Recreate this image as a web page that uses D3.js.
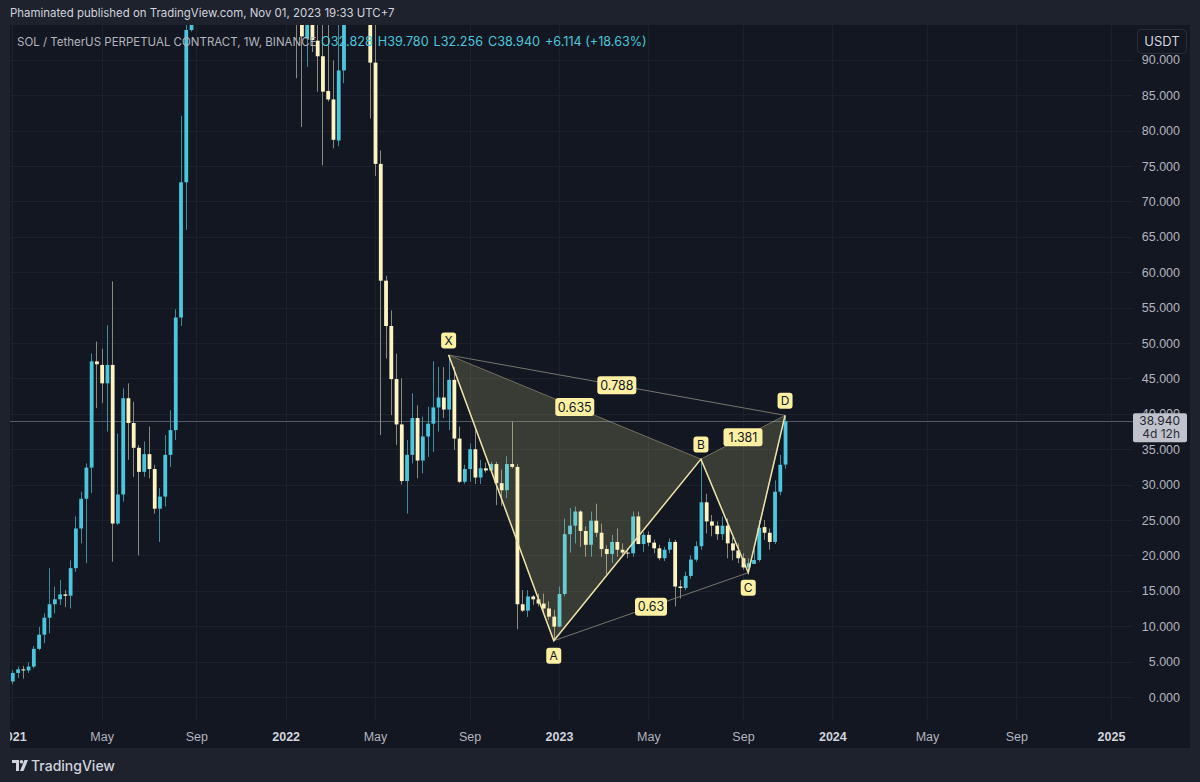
<!DOCTYPE html>
<html>
<head>
<meta charset="utf-8">
<script src="https://cdn.jsdelivr.net/npm/d3@7"></script>
<style>
  html, body { margin: 0; padding: 0; background: #1e222d; }
  svg { display: block; font-family: Inter, "Noto Sans", "DejaVu Sans", sans-serif; }
</style>
</head>
<body>
<div id="chart"></div>
<script>
// SOL/USDT perp weekly candles, Jan 2021 - Oct 2023, with an XABCD pattern drawn on top

const W = 1200, H = 782;

// weekly candles, first bar = week of 4 Jan 2021
const firstWeek = Date.UTC(2021, 0, 4);
const opens = [
  2.2, 3.4, 3.9, 3.75, 4.3, 6.8, 8.8, 11.2, 13.1, 13.8, 14.5, 14.3, 18.2, 23.8, 28.0, 32.4, 47.4, 46.9, 44.3, 46.9,
  24.5, 28.6, 42.2, 38.7, 35.2, 31.8, 34.3, 32.2, 26.6, 28.3, 34.2, 37.7, 53.6, 72.7, 94.2, 140, 175, 165, 135, 165,
  150, 160, 200, 205, 245, 235, 225, 205, 195, 165, 185, 190, 170, 140, 140, 97, 93.0, 112, 92.7, 90.5,
  85.6, 84.4, 78.6, 88.5, 102, 122, 112, 102, 103, 89.6, 75.3, 58.8, 52.4, 44.9, 38.5, 30.5, 34.2, 39.4, 33.4, 36.8,
  38.6, 40.9, 42.3, 40.6, 44.8, 36.5, 30.4, 32.2, 35.0, 31.0, 32.3, 32.0, 32.9, 30.2, 29.2, 32.9, 32.5, 13.1, 12.2, 14.2,
  13.8, 13.2, 12.5, 11.35, 9.94, 14.55, 23.0, 24.2, 26.2, 23.45, 21.5, 24.9, 23.2, 20.9, 20.2, 21.9, 20.8, 20.4, 20.3, 25.5,
  21.6, 22.9, 21.8, 21.0, 19.6, 20.8, 21.9, 15.6, 15.4, 17.1, 19.4, 21.3, 27.5, 24.8, 24.2, 23.0, 24.2, 21.7, 20.7, 19.6,
  18.3, 18.8, 19.35, 24.0, 23.2, 21.9, 29.0, 32.828
];
const highs = [
  3.8, 4.3, 4.4, 4.9, 7.2, 9.9, 11.8, 18.2, 15.6, 16.5, 15.1, 19.3, 25.5, 29.0, 33.0, 48.5, 50.2, 49.2, 52.5, 58.7,
  37.2, 43.6, 44.3, 41.7, 35.6, 36.1, 38.2, 32.8, 29.5, 37.0, 40.5, 54.75, 82.1, 95.0, 147, 216, 190, 170, 175, 175,
  168, 215, 218, 260, 260, 240, 235, 240, 200, 195, 200, 204, 175, 155, 145, 99, 118, 119, 97, 96.5,
  96, 89.9, 95.5, 106, 143, 136, 114, 110, 110, 96, 77.2, 59.5, 54.6, 48.5, 45.0, 36.3, 42.9, 41.2, 39.6, 41.0,
  47.4, 46.6, 46.6, 48.3, 46.6, 38.2, 32.8, 35.8, 37.7, 33.5, 33.1, 33.2, 33.2, 32.1, 34.0, 38.9, 32.9, 15.1, 15.1, 14.4,
  14.6, 14.6, 13.5, 12.3, 15.6, 25.2, 26.7, 26.9, 26.4, 24.1, 26.2, 27.3, 24.5, 21.4, 22.9, 23.8, 21.7, 21.0, 26.2, 26.2,
  23.3, 23.4, 22.2, 21.5, 21.2, 22.4, 22.2, 16.5, 17.7, 20.0, 22.0, 33.6, 28.7, 25.7, 24.8, 25.5, 25.2, 22.6, 21.7, 20.3,
  19.6, 20.8, 25.0, 25.0, 23.8, 30.6, 34.2, 39.78
];
const lows = [
  1.8, 2.7, 2.6, 3.4, 4.05, 6.6, 7.6, 9.0, 11.8, 13.0, 12.7, 12.5, 17.7, 21.7, 18.9, 28.8, 40.8, 41.5, 37.5, 19.1,
  24.3, 27.6, 33.5, 31.1, 20.0, 31.1, 30.9, 25.9, 21.9, 26.9, 32.5, 36.3, 52.4, 66.0, 94.0, 125, 145, 120, 130, 145,
  145, 150, 180, 190, 220, 190, 185, 170, 155, 155, 180, 165, 130, 135, 87.4, 80.5, 89.0, 91.1, 85.5, 75.1,
  84.1, 77.5, 77.8, 86.7, 100, 108, 97, 97, 81.7, 73.6, 37.0, 47.8, 39.8, 35.6, 30.0, 25.9, 33.0, 30.9, 31.6, 33.9,
  34.6, 37.5, 39.4, 37.7, 34.9, 30.2, 30.1, 30.4, 30.1, 30.1, 31.7, 31.7, 27.1, 27.0, 28.1, 32.3, 9.56, 12.0, 11.3, 13.0,
  12.8, 12.0, 10.9, 7.95, 9.85, 14.2, 20.4, 21.7, 21.2, 19.8, 19.8, 22.6, 19.8, 17.3, 18.9, 19.8, 19.8, 19.6, 19.8, 21.7,
  20.5, 21.3, 20.3, 19.3, 19.2, 20.3, 12.8, 13.9, 15.1, 16.7, 19.1, 20.8, 23.1, 22.7, 22.2, 22.2, 19.6, 19.3, 18.9, 18.0,
  17.56, 18.8, 19.1, 22.2, 20.8, 21.6, 28.5, 32.256
];
const closes = [
  3.4, 3.9, 3.75, 4.3, 6.8, 8.8, 11.2, 13.1, 13.8, 14.5, 14.3, 18.2, 23.8, 28.0, 32.4, 47.4, 47.0, 44.3, 46.9, 24.5,
  28.6, 42.2, 38.7, 35.2, 31.8, 34.3, 32.2, 26.6, 28.3, 34.2, 37.7, 53.6, 72.7, 94.2, 140, 175, 165, 135, 165, 150,
  160, 200, 205, 245, 235, 225, 205, 195, 165, 185, 190, 170, 140, 140, 97, 93.3, 112, 92.8, 90.5, 85.5,
  84.4, 78.7, 88.5, 102, 122, 112, 102, 103, 89.6, 75.3, 58.8, 52.4, 44.9, 38.5, 30.5, 34.2, 39.4, 33.4, 36.8, 38.6,
  40.9, 42.3, 40.6, 44.8, 36.5, 30.4, 32.2, 35.0, 31.0, 32.3, 32.0, 32.9, 30.2, 29.2, 32.9, 32.5, 13.1, 12.2, 14.2, 13.8,
  13.2, 12.5, 11.35, 9.94, 14.55, 23.0, 24.2, 26.2, 23.45, 21.5, 24.9, 23.2, 20.9, 20.2, 21.9, 20.8, 20.4, 20.3, 25.5, 21.6,
  22.9, 21.8, 21.0, 19.6, 20.8, 21.9, 15.6, 15.4, 17.1, 19.4, 21.3, 27.5, 24.8, 24.2, 23.0, 24.2, 21.7, 20.7, 19.6, 18.3,
  18.9, 19.35, 23.9, 23.2, 21.9, 29.0, 32.8, 38.94
];

// XABCD pattern: bar index and price of each pivot
const pivotNames = ['X', 'A', 'B', 'C', 'D'];
const pivotBars = [83, 103, 131, 140, 147];
const pivotPrices = [48.3, 7.95, 33.6, 17.56, 39.78];
const pivotAbove = [true, false, true, false, true];
// ratio labels sit at the middle of the line between two pivots
const ratioFrom = ['X', 'X', 'B', 'A'];
const ratioTo = ['B', 'D', 'D', 'C'];
const ratioText = ['0.635', '0.788', '1.381', '0.63'];

// time axis labels
const tickDates = ['2021-01-04', '2021-05-03', '2021-09-06', '2022-01-03', '2022-05-02', '2022-09-05', '2023-01-02',
  '2023-05-01', '2023-09-04', '2024-01-01', '2024-05-06', '2024-09-02', '2025-01-06'];
const tickLabels = ['2021', 'May', 'Sep', '2022', 'May', 'Sep', '2023', 'May', 'Sep', '2024', 'May', 'Sep', '2025'];

const lastPrice = 38.94;
const headerText = 'Phaminated published on TradingView.com, Nov 01, 2023 19:33 UTC+7';
const legendTitle = 'SOL / TetherUS PERPETUAL CONTRACT, 1W, BINANCE';
const legendValues = ['O32.828', 'H39.780', 'L32.256', 'C38.940', '+6.114 (+18.63%)'];

const upColor = '#4cc6dc', downColor = '#fdf4c2';
const upWick = '#3f8d9e', downWick = '#8a897e';
const bg = '#131722', frame = '#1e222d', gridColor = '#1d212c', axisText = '#b2b5be';

// layout
const pane = { left: 10, right: 1190, top: 25, bottom: 748 };
const plot = { left: 10, right: 1133, top: 25, bottom: 721 };

const bars = opens.map((o, i) => ({
  date: new Date(firstWeek + i * 7 * 864e5),
  o, h: highs[i], l: lows[i], c: closes[i]
}));

const x = d3.scaleTime()
  .domain([bars[0].date, bars[bars.length - 1].date])
  .range([12.3, 785.05]);
const y = d3.scaleLinear().domain([0, 90]).range([697, 59.8]);

const svg = d3.select('#chart').append('svg').attr('width', W).attr('height', H);

// scale a text's font so that it spans the given width
function fitWidth(sel, width) {
  const w = sel.node().getComputedTextLength();
  sel.attr('font-size', +sel.attr('font-size') * width / w);
}

svg.append('rect').attr('width', W).attr('height', H).attr('fill', frame);
svg.append('rect')
  .attr('x', pane.left).attr('y', pane.top)
  .attr('width', pane.right - pane.left).attr('height', pane.bottom - pane.top)
  .attr('fill', bg);

const defs = svg.append('defs');
defs.append('clipPath').attr('id', 'plotClip').append('rect')
  .attr('x', plot.left).attr('y', plot.top)
  .attr('width', plot.right - plot.left).attr('height', plot.bottom - plot.top);
defs.append('clipPath').attr('id', 'timeClip').append('rect')
  .attr('x', pane.left).attr('y', plot.bottom)
  .attr('width', plot.right - pane.left).attr('height', pane.bottom - plot.bottom);

const tDates = tickDates.map(s => new Date(s + 'T00:00:00Z'));
const priceTicks = y.ticks(18);

// grid
const grid = svg.append('g').attr('clip-path', 'url(#plotClip)');
grid.selectAll('line.h').data(priceTicks).join('line')
  .attr('x1', plot.left).attr('x2', plot.right)
  .attr('y1', d => Math.round(y(d)) + 0.5).attr('y2', d => Math.round(y(d)) + 0.5)
  .attr('stroke', gridColor);
grid.selectAll('line.v').data(tDates).join('line')
  .attr('x1', d => Math.round(x(d)) + 0.5).attr('x2', d => Math.round(x(d)) + 0.5)
  .attr('y1', plot.top).attr('y2', plot.bottom)
  .attr('stroke', gridColor);

// last price line
grid.append('line')
  .attr('x1', plot.left).attr('x2', plot.right)
  .attr('y1', Math.round(y(lastPrice)) + 0.5).attr('y2', Math.round(y(lastPrice)) + 0.5)
  .attr('stroke', '#555965');

// candles
const bodyW = 3.8;
const candles = svg.append('g').attr('clip-path', 'url(#plotClip)');
const cg = candles.selectAll('g').data(bars).join('g');
cg.append('line')
  .attr('x1', d => Math.round(x(d.date)) + 0.5).attr('x2', d => Math.round(x(d.date)) + 0.5)
  .attr('y1', d => y(d.h)).attr('y2', d => y(d.l))
  .attr('stroke', d => d.c >= d.o ? upWick : downWick)
  .attr('stroke-width', 1);
cg.append('rect')
  .attr('x', d => x(d.date) - bodyW / 2 + 0.5)
  .attr('width', bodyW)
  .attr('y', d => y(Math.max(d.o, d.c)))
  .attr('height', d => Math.max(1, Math.abs(y(d.o) - y(d.c))))
  .attr('fill', d => d.c >= d.o ? upColor : downColor);

// XABCD pattern
const pivots = pivotNames.map((n, i) => ({
  name: n, px: x(bars[pivotBars[i]].date), py: y(pivotPrices[i]), above: pivotAbove[i]
}));
const P = Object.fromEntries(pivots.map(p => [p.name, p]));
const pat = svg.append('g').attr('clip-path', 'url(#plotClip)');
const tri = pts => pts.map(n => [P[n].px, P[n].py].join(',')).join(' ');

pat.selectAll('polygon').data([['X', 'A', 'B'], ['B', 'C', 'D']]).join('polygon')
  .attr('points', tri)
  .attr('fill', 'rgba(250,240,150,0.17)')
  .attr('stroke', 'rgba(240,232,180,0.35)')
  .attr('stroke-width', 1);

// thin connector lines X-D and A-C
pat.selectAll('line.thin').data([['X', 'D'], ['A', 'C']]).join('line')
  .attr('x1', d => P[d[0]].px).attr('y1', d => P[d[0]].py)
  .attr('x2', d => P[d[1]].px).attr('y2', d => P[d[1]].py)
  .attr('stroke', '#76766c').attr('stroke-width', 1);

// main legs
pat.append('path')
  .attr('d', d3.line()(pivots.map(p => [p.px, p.py])))
  .attr('fill', 'none')
  .attr('stroke', '#eee3a6').attr('stroke-width', 1.5);

const labelFill = '#fdf0a3';
// ratio labels
ratioText.forEach((t, i) => {
  const a = P[ratioFrom[i]], b = P[ratioTo[i]];
  const cx = (a.px + b.px) / 2, cy = (a.py + b.py) / 2;
  const w = t.length * 7 + 4, h = 18;
  pat.append('rect').attr('x', cx - w / 2).attr('y', cy - h / 2).attr('width', w).attr('height', h)
    .attr('rx', 3).attr('fill', labelFill);
  pat.append('text').attr('x', cx).attr('y', cy + 4.5).attr('text-anchor', 'middle')
    .attr('font-size', 12.5).attr('fill', '#131722').text(t);
});
// pivot labels
pivots.forEach(p => {
  const cy = p.above ? p.py - 14.5 : p.py + 15;
  pat.append('rect').attr('x', p.px - 7.5).attr('y', cy - 8).attr('width', 15).attr('height', 16)
    .attr('rx', 3).attr('fill', labelFill);
  pat.append('text').attr('x', p.px).attr('y', cy + 4.5).attr('text-anchor', 'middle')
    .attr('font-size', 12).attr('fill', '#131722').text(p.name);
});

// price axis
const yAxis = svg.append('g')
  .attr('transform', `translate(${plot.right},0)`)
  .call(d3.axisRight(y).tickValues(priceTicks).tickFormat(d3.format('.3f')).tickSize(0));
yAxis.select('.domain').remove();
yAxis.selectAll('text')
  .attr('x', 47).attr('text-anchor', 'end')
  .attr('font-size', 12.5).attr('font-family', null)
  .attr('fill', axisText);

// last price box
const lpY = y(lastPrice);
svg.append('rect').attr('x', 1133).attr('y', lpY - 8).attr('width', 54).attr('height', 29)
  .attr('rx', 2).attr('fill', '#bfc2ca');
svg.append('text').attr('x', 1180).attr('y', lpY + 3.5).attr('text-anchor', 'end')
  .attr('font-size', 12).attr('fill', '#1e222d').text(lastPrice.toFixed(3));
svg.append('text').attr('x', 1180).attr('y', lpY + 16.5).attr('text-anchor', 'end')
  .attr('font-size', 12).attr('fill', '#2a2e39').text('4d 12h');

// currency button
svg.append('rect').attr('x', 1137.5).attr('y', 29.5).attr('width', 49).attr('height', 24)
  .attr('rx', 4).attr('fill', bg).attr('stroke', '#2a2e39');
svg.append('text').attr('x', 1162).attr('y', 46).attr('text-anchor', 'middle')
  .attr('font-size', 13).attr('fill', '#d1d4dc').text('USDT');

// time axis (clip in an outer group so the transform does not shift the clip box)
const xAxis = svg.append('g').attr('clip-path', 'url(#timeClip)')
  .append('g')
  .attr('transform', `translate(0,${plot.bottom})`)
  .call(d3.axisBottom(x).tickValues(tDates).tickFormat((d, i) => tickLabels[i]).tickSize(0));
xAxis.select('.domain').remove();
xAxis.selectAll('text')
  .attr('y', 19.5).attr('dy', null)
  .attr('font-size', 12.5).attr('font-family', null)
  .attr('font-weight', (d, i) => tickLabels[i].length === 4 ? 700 : 400)
  .attr('fill', (d, i) => tickLabels[i].length === 4 ? '#d1d4dc' : axisText);

// legend and header
const header = svg.append('text').attr('x', 10).attr('y', 17)
  .attr('font-size', 12.5).attr('fill', '#d1d4dc').text(headerText);
fitWidth(header, 385);

const legTitle = svg.append('text').attr('x', 17).attr('y', 46).attr('font-size', 13)
  .attr('fill', '#b2b5be').text(legendTitle);
fitWidth(legTitle, 300);
const legVals = svg.append('text').attr('x', 321).attr('y', 46).attr('font-size', 13);
legendValues.forEach((v, i) => legVals.append('tspan').attr('dx', i ? 5 : 0).attr('fill', upColor).text(v));
fitWidth(legVals, 306);

// footer logo
const logo = svg.append('g').attr('transform', 'translate(12,760)').attr('fill', '#d1d4dc');
logo.append('path').attr('d', 'M0 0 H7 V11 H4 V3 H0 Z');
logo.append('circle').attr('cx', 9.5).attr('cy', 1.8).attr('r', 1.8);
logo.append('path').attr('d', 'M12.5 0 H16 L11.5 11 H8 Z');
svg.append('text').attr('x', 31).attr('y', 771)
  .attr('font-size', 14).attr('font-weight', 500).attr('fill', '#d1d4dc').text('TradingView');
</script>
</body>
</html>
